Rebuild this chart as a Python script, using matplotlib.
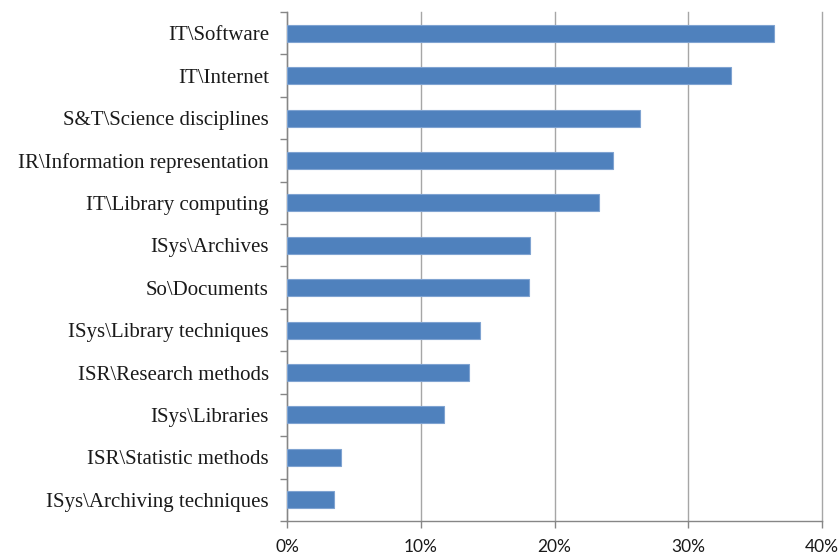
import numpy as np
import matplotlib
matplotlib.use("Agg")
import matplotlib.pyplot as plt
from matplotlib.ticker import FixedLocator, PercentFormatter

# share of documents per subject category (percent), top to bottom
categories = [
    "IT\\Software",
    "IT\\Internet",
    "S&T\\Science disciplines",
    "IR\\Information representation",
    "IT\\Library computing",
    "ISys\\Archives",
    "So\\Documents",
    "ISys\\Library techniques",
    "ISR\\Research methods",
    "ISys\\Libraries",
    "ISR\\Statistic methods",
    "ISys\\Archiving techniques",
]
shares = [36.4, 33.2, 26.4, 24.4, 23.3, 18.2, 18.1, 14.4, 13.6, 11.7, 4.0, 3.5]
x_ticks = [0, 10, 20, 30, 40]

BAR_COLOR = "#4F81BD"
GRID_COLOR = "#A6A6A6"
AXIS_COLOR = "#868686"

fig = plt.figure(figsize=(8.4, 5.55), dpi=100)
ax = fig.add_axes([0.3417, 0.0613, 0.6369, 0.9171])

# first category goes on top
pos = np.arange(len(categories))[::-1]
ax.barh(pos, shares, height=0.4, color=BAR_COLOR,
        edgecolor="#7FA3D1", linewidth=0.8, zorder=3)

ax.set_xlim(0, 40)
ax.set_ylim(-0.5, len(categories) - 0.5)

ax.xaxis.set_major_locator(FixedLocator(x_ticks))
ax.xaxis.set_major_formatter(PercentFormatter(decimals=0))
ax.grid(axis="x", color=GRID_COLOR, linewidth=1.0, zorder=0)
for gl in ax.get_xgridlines():
    gl.set_clip_on(False)

ax.set_yticks(pos)
ax.set_yticklabels(categories, family="Liberation Serif", fontsize=15,
                   color="#1A1A1A")
ax.yaxis.set_minor_locator(FixedLocator(np.arange(-0.5, len(categories), 1)))
ax.tick_params(axis="y", which="major", length=0, pad=13)
ax.tick_params(axis="y", which="minor", length=5, color=AXIS_COLOR, width=1)
ax.tick_params(axis="x", length=5, color=AXIS_COLOR, width=1, pad=8,
               labelsize=12.5, labelcolor="#1A1A1A")
for lbl in ax.get_xticklabels():
    lbl.set_family("Lato")

for side in ("top", "right"):
    ax.spines[side].set_visible(False)
for side in ("left", "bottom"):
    ax.spines[side].set_color(AXIS_COLOR)
    ax.spines[side].set_linewidth(1.0)

fig.savefig("out.png", dpi=100, facecolor="white")
